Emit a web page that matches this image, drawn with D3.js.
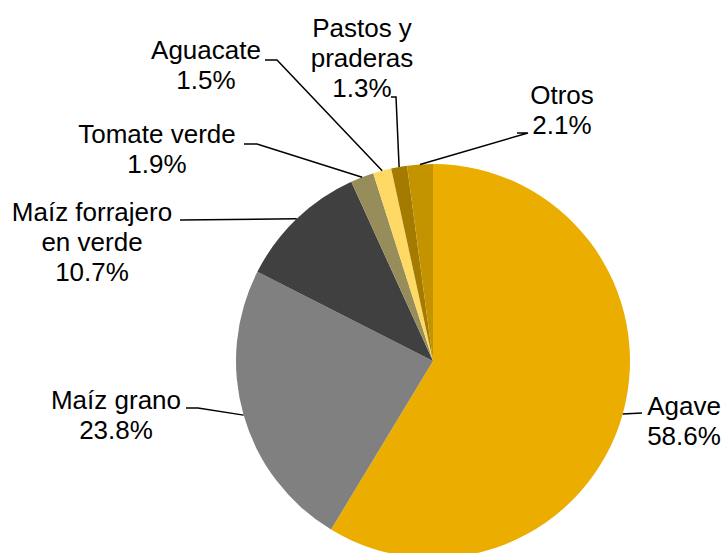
<!DOCTYPE html>
<html>
<head>
<meta charset="utf-8">
<script src="https://cdn.jsdelivr.net/npm/d3@7"></script>
<style>
  body { margin: 0; background: #fff; }
  text { font-family: "Liberation Sans", Arial, sans-serif; font-size: 26px; fill: #000; }
</style>
</head>
<body>
<div id="chart"></div>
<script>
const width = 724;
const height = 553;

// data
const categories = ["Agave", "Maíz grano", "Maíz forrajero en verde", "Tomate verde", "Aguacate", "Pastos y praderas", "Otros"];
const values = [58.6, 23.8, 10.7, 1.9, 1.5, 1.3, 2.1];
const labelLines = [
    ["Agave", "58.6%"],
    ["Maíz grano", "23.8%"],
    ["Maíz forrajero", "en verde", "10.7%"],
    ["Tomate verde", "1.9%"],
    ["Aguacate", "1.5%"],
    ["Pastos y", "praderas", "1.3%"],
    ["Otros", "2.1%"]
];
const colors = ["#EBAD00", "#808080", "#404040", "#978D5A", "#FFD966", "#A57A00", "#C39400"];

// label layout: text centre x, first baseline y, leader start / elbow
const labelLayout = [
    { x: 684, y: 415, path: [[642, 413], [642, 413]] },
    { x: 116, y: 409, path: [[186, 408], [198, 408]] },
    { x: 92,  y: 221, path: [[180, 220], [180, 220]] },
    { x: 157, y: 143, path: [[244, 144], [257, 144]] },
    { x: 206, y: 59,  path: [[265, 60], [277, 60]] },
    { x: 362, y: 37,  path: [[391, 97], [396, 97]] },
    { x: 562, y: 104, path: [[517, 133], [528, 133]] }
];

const cx = 433, cy = 361, r = 197;

const svg = d3.select("#chart").append("svg")
    .attr("width", width)
    .attr("height", height);

const g = svg.append("g")
    .attr("transform", `translate(${cx},${cy})`);

const pie = d3.pie().sort(null).value(d => d);
const arcs = pie(values);

const arc = d3.arc().innerRadius(0).outerRadius(r);
const edge = d3.arc().innerRadius(r).outerRadius(r);

g.selectAll("path.slice")
    .data(arcs)
    .enter()
    .append("path")
    .attr("class", "slice")
    .attr("d", arc)
    .attr("fill", (d, i) => colors[i]);

// leader lines
const line = d3.line();
arcs.forEach((d, i) => {
    const [ex, ey] = edge.centroid(d);
    const pts = labelLayout[i].path.map(p => [p[0] - cx, p[1] - cy]);
    pts.push([ex, ey]);
    g.append("path")
        .attr("d", line(pts))
        .attr("fill", "none")
        .attr("stroke", "#000")
        .attr("stroke-width", 1.5);
});

// labels
labelLines.forEach((lines, i) => {
    const t = svg.append("text")
        .attr("text-anchor", "middle")
        .attr("x", labelLayout[i].x)
        .attr("y", labelLayout[i].y);
    lines.forEach((s, j) => {
        t.append("tspan")
            .attr("x", labelLayout[i].x)
            .attr("dy", j === 0 ? 0 : 30)
            .text(s);
    });
});
</script>
</body>
</html>
